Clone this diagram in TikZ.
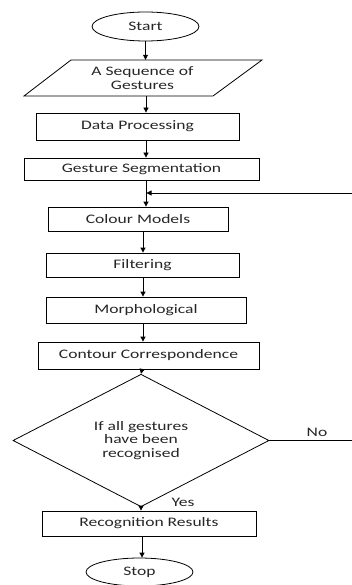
\documentclass[tikz,border=0pt]{standalone}
\usepackage{fontspec}
\setmainfont{Carlito}[FakeStretch=1.35]
\usetikzlibrary{shapes.geometric,arrows.meta}
\begin{document}
\begin{tikzpicture}[x=1pt,y=-1pt,
  every node/.style={font=\fontsize{13}{13.5}\selectfont, text=black!85, inner sep=0pt},
  box/.style={draw, rectangle, line width=0.8pt},
  term/.style={draw, ellipse, line width=0.8pt},
  arr/.style={draw, line width=0.8pt, -{Triangle[length=5pt,width=5pt]}},
  ln/.style={draw, line width=0.8pt}]
\useasboundingbox (0,0) rectangle (352,585);
% nodes
\node[term, minimum width=107pt, minimum height=29pt] (start) at (145.5,26.5) {Start};
\node[minimum width=142pt, minimum height=36pt, align=center] (seq) at (142.5,78) {A Sequence of\\Gestures};
\draw[line width=0.8pt] (24,96) -- (71,60) -- (262,60) -- (213,96) -- cycle;
\node[box, minimum width=203pt, minimum height=27pt] (dp) at (137.5,126.5) {Data Processing};
\node[box, minimum width=235pt, minimum height=22pt] (gs) at (141.5,169) {Gesture Segmentation};
\node[box, minimum width=180pt, minimum height=24pt] (cm) at (138,219) {Colour Models};
\node[box, minimum width=193pt, minimum height=24pt] (fi) at (142.5,265) {Filtering};
\node[box, minimum width=200pt, minimum height=26pt] (mo) at (146,310) {Morphological};
\node[box, minimum width=221pt, minimum height=27pt] (cc) at (148.5,355.5) {Contour Correspondence};
\node[draw, diamond, line width=0.8pt, minimum width=256pt, minimum height=93pt, align=center] (dia) at (141,440.5) {If all gestures\\have been\\recognised};
\node[box, minimum width=214pt, minimum height=25pt] (rr) at (149,523.5) {Recognition Results};
\node[term, minimum width=107pt, minimum height=28pt] (stop) at (139.5,572) {Stop};
\node (no) at (317,432) {No};
\node (yes) at (183,502) {Yes};
% column coordinates
\coordinate (c1) at (145.5,0);
\coordinate (c2) at (146,0);
\coordinate (c3) at (143,0);
\coordinate (c4) at (142,0);
\coordinate (fbR) at (352,193);
\coordinate (fbIn) at (146.5,193);
\coordinate (noR) at (352,440.5);
% connectors
\draw[arr] (start.south -| c1) -- (seq.north -| c1);
\draw[arr] (seq.south -| c2) -- (dp.north -| c2);
\draw[arr] (dp.south -| c2) -- (gs.north -| c2);
\draw[arr] (gs.south -| c2) -- (cm.north -| c2);
\draw[arr] (cm.south -| c3) -- (fi.north -| c3);
\draw[arr] (fi.south -| c3) -- (mo.north -| c3);
\draw[arr] (mo.south -| c3) -- (cc.north -| c3);
\draw[arr] (cc.south -| c4) -- (dia.north);
\draw[arr] (dia.south) -- (rr.north -| dia.south);
\draw[arr] (rr.south -| c4) -- (stop.north -| c4);
\draw[arr] (fbR) -- (fbIn);
\draw[ln] (dia.east) -- (noR);
\end{tikzpicture}
\end{document}
